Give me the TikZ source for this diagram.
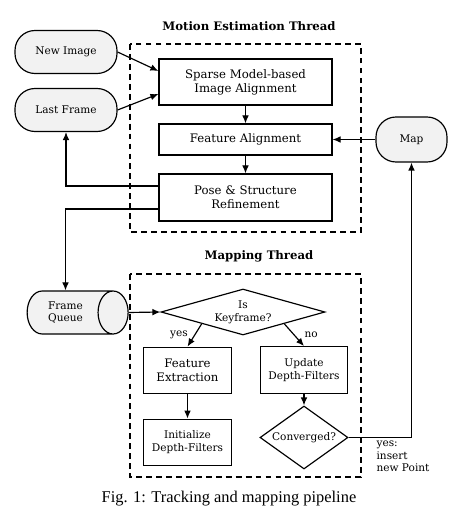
\documentclass[tikz,border=0pt]{standalone}
\usepackage{fontspec}
\setmainfont{DejaVu Serif}
\newfontfamily\capfont{Liberation Serif}
\usepackage{tikz}
\usetikzlibrary{arrows.meta,shapes.geometric}

\begin{document}
\begin{tikzpicture}[>={Latex[length=2.4mm,width=2mm]},line width=1pt,
    proc/.style={draw,minimum width=5.19cm,align=center},
    term/.style={draw,fill=gray!10,rounded corners=0.6cm,minimum width=3.06cm,minimum height=1.29cm,font=\small},
    decide/.style={draw,diamond,inner sep=0pt,align=center,font=\small},
    smallbox/.style={draw,minimum width=2.62cm,minimum height=1.4cm,align=center},
    group/.style={dash pattern=on 5pt off 3.5pt},
    title/.style={font=\normalsize\bfseries}]
    \useasboundingbox (0,0) rectangle (13.98,-15.54);

    % motion estimation thread
    \node[title] (mtitle) at (7.47,-0.78) {Motion Estimation Thread};
    \draw[group] (3.9,-1.32) rectangle (10.83,-6.96);
    \node[term] (newimg) at (1.98,-1.56) {New Image};
    \node[term] (lastframe) at (1.98,-3.3) {Last Frame};
    \node[proc,minimum height=1.38cm] (sparse) at (7.365,-2.46) {Sparse Model-based\\Image Alignment};
    \node[proc,minimum height=0.93cm] (featalign) at (7.365,-4.185) {Feature Alignment};
    \node[proc,minimum height=1.41cm] (pose) at (7.365,-5.925) {Pose \& Structure\\Refinement};
    \node[term,minimum width=2.13cm,minimum height=1.35cm] (map) at (12.345,-4.185) {Map};

    \draw[->] (newimg.east) -- ([yshift=0.33cm]sparse.west);
    \draw[->] (lastframe.east) -- ([yshift=-0.36cm]sparse.west);
    \draw[->] (sparse) -- (featalign);
    \draw[->] (featalign) -- (pose);
    \draw[->] (map) -- (featalign);
    \draw[->] ([yshift=0.345cm]pose.west) -| (lastframe.south);

    % mapping thread
    \node[title] (ptitle) at (7.77,-7.68) {Mapping Thread};
    \draw[group] (3.9,-8.22) rectangle (10.83,-14.31);
    \node[draw,cylinder,shape aspect=1.0,fill=gray!10,minimum width=1.29cm,minimum height=3.03cm,
      align=center,font=\small] (queue) at (1.965,-9.375) {Frame\\Queue};
    \node[decide,aspect=3.5,minimum width=4.92cm,minimum height=1.38cm] (keyframe) at (7.29,-9.36) {Is\\Keyframe?};
    \node[smallbox] (featextr) at (5.625,-11.115) {Feature\\Extraction};
    \node[smallbox,font=\small] (update) at (9.12,-11.1) {Update\\Depth-Filters};
    \node[smallbox,font=\small] (init) at (5.625,-13.275) {Initialize\\Depth-Filters};
    \node[decide,aspect=1.4,minimum width=2.64cm,minimum height=1.89cm] (conv) at (9.12,-13.125) {Converged?};

    \draw[->] ([yshift=-0.345cm]pose.west) -| (queue.north);
    \draw[->] (queue.east) -- (keyframe.west);
    \draw[->] (keyframe.south west) -- (featextr.north) node[midway,left=2pt,font=\small] {yes};
    \draw[->] (keyframe.south east) -- (update.north) node[midway,right=5pt,font=\small] {no};
    \draw[->] (featextr) -- (init);
    \draw[->] (update) -- (conv);
    \draw[->] (conv.east) -| (map.south);
    \node[align=left,anchor=north west,font=\small,inner sep=0pt] (yeslbl) at (11.28,-13.2) {yes:\\insert\\new Point};

    \node[font=\fontsize{14}{17}\capfont] (caption) at (6.87,-14.96) {Fig. 1: Tracking and mapping pipeline};
\end{tikzpicture}
\end{document}
